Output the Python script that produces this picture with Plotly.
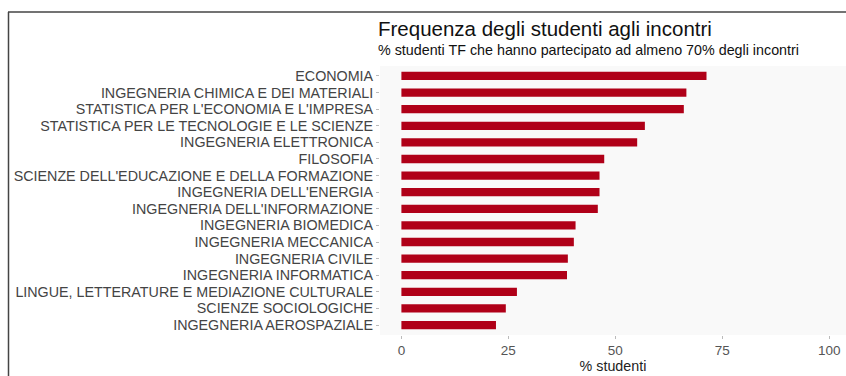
import plotly.graph_objects as go

# Corsi di laurea (dall'alto verso il basso) e % studenti con frequenza >= 70%
corsi = [
    "ECONOMIA",
    "INGEGNERIA CHIMICA E DEI MATERIALI",
    "STATISTICA PER L'ECONOMIA E L'IMPRESA",
    "STATISTICA PER LE TECNOLOGIE E LE SCIENZE",
    "INGEGNERIA ELETTRONICA",
    "FILOSOFIA",
    "SCIENZE DELL'EDUCAZIONE E DELLA FORMAZIONE",
    "INGEGNERIA DELL'ENERGIA",
    "INGEGNERIA DELL'INFORMAZIONE",
    "INGEGNERIA BIOMEDICA",
    "INGEGNERIA MECCANICA",
    "INGEGNERIA CIVILE",
    "INGEGNERIA INFORMATICA",
    "LINGUE, LETTERATURE E MEDIAZIONE CULTURALE",
    "SCIENZE SOCIOLOGICHE",
    "INGEGNERIA AEROSPAZIALE",
]
perc_studenti = [71.3, 66.6, 66.0, 56.9, 55.1, 47.4, 46.3, 46.3, 45.9,
                 40.7, 40.3, 38.9, 38.7, 27.0, 24.4, 22.1]
x_ticks = [0, 25, 50, 75, 100]

W, H = 846, 376
L, R, T, B = 380, 0, 66, 41
pw, ph = W - L - R, H - T - B


def px_x(px):
    return (px - L) / pw


def px_y(py):
    return (H - B - py) / ph


FONT = "Liberation Sans, Arial, sans-serif"

fig = go.Figure(go.Bar(
    x=perc_studenti,
    y=corsi,
    orientation="h",
    width=0.5,
    marker=dict(color="#B00018", line=dict(width=0)),
))

fig.update_layout(
    width=W, height=H,
    margin=dict(l=L, r=R, t=T, b=B),
    paper_bgcolor="white",
    plot_bgcolor="#f9f9f9",
    showlegend=False,
    font=dict(family=FONT, color="#4d4d4d"),
    xaxis=dict(
        range=[-5, 103.9], tickvals=x_ticks, ticks="outside", ticklen=3,
        tickcolor="#bbbbbb", showgrid=False, zeroline=False, showline=False,
        tickfont=dict(size=13.5, color="#555555"),
        title=dict(text="% studenti", font=dict(size=14.3, color="#222222"), standoff=1),
    ),
    yaxis=dict(
        categoryorder="array", categoryarray=corsi, autorange=False,
        range=[len(corsi) - 0.4, -0.6],
        tickmode="array", tickvals=corsi, ticktext=corsi,
        ticks="outside", ticklen=3, tickcolor="#bbbbbb",
        showgrid=False, zeroline=False, showline=False,
        tickfont=dict(size=14.3, color="#444444"),
    ),
    shapes=[
        dict(type="line", xref="paper", yref="paper",
             x0=px_x(8), x1=px_x(846), y0=px_y(12), y1=px_y(12),
             line=dict(color="#444444", width=1.5)),
        dict(type="line", xref="paper", yref="paper",
             x0=px_x(8.5), x1=px_x(8.5), y0=px_y(12), y1=px_y(376),
             line=dict(color="#444444", width=1.5)),
    ],
    annotations=[
        dict(text="Frequenza degli studenti agli incontri", xref="paper", yref="paper",
             x=px_x(376), y=px_y(15), xanchor="left", yanchor="top", showarrow=False,
             font=dict(size=20.5, color="#111111", family=FONT)),
        dict(text="% studenti TF che hanno partecipato ad almeno 70% degli incontri",
             xref="paper", yref="paper",
             x=px_x(376), y=px_y(40), xanchor="left", yanchor="top", showarrow=False,
             font=dict(size=14.3, color="#111111", family=FONT)),
    ],
)

fig.write_html("out.html")
